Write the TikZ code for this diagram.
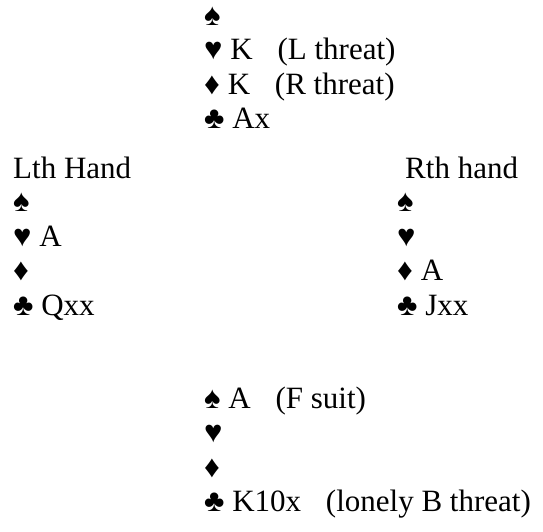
\documentclass[tikz,border=0pt]{standalone}
\usepackage{fontspec}
\setmainfont{Liberation Serif}
\usetikzlibrary{positioning}

\begin{document}
\begin{tikzpicture}[x=1pt,y=-1pt]
  \tikzset{hand/.style={align=left,anchor=base west,inner sep=0pt,
      font=\fontsize{31}{34.5}\selectfont}}
  \useasboundingbox (0,0) rectangle (543,531);

  % hands, anchored at the baseline of their last line
  \node[hand] (north) at (204,128.5) {♠\\♥ K\hspace{0.8em}(L threat)\\♦ K\hspace{0.8em}(R threat)\\♣ Ax};

  \node[hand] (lth) at (13,178) {Lth Hand};
  \node[hand] (west) at (13,315) {♠\\♥ A\\♦\\♣ Qxx};

  \node[hand] (rth) at (405,178) {Rth hand};
  \node[hand] (east) at (397,315) {♠\\♥\\♦ A\\♣ Jxx};

  \node[hand] (south) at (204,511.5) {♠ A\hspace{0.8em}(F suit)\\♥\\♦\\♣ K10x\hspace{0.8em}(lonely B threat)};
\end{tikzpicture}
\end{document}
